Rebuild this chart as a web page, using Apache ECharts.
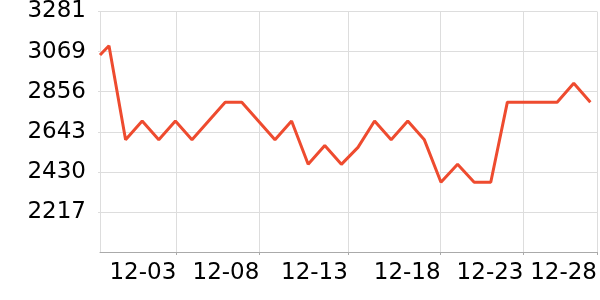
<!DOCTYPE html>
<html>
<head>
<meta charset="utf-8">
<script src="https://cdn.jsdelivr.net/npm/echarts@6/dist/echarts.min.js"></script>
<style>
html,body{margin:0;padding:0;background:#fff;}
#chart{width:600px;height:300px;}
</style>
</head>
<body>
<div id="chart"></div>
<script>
const dates = ['2023-11-28 11:00','2023-11-29','2023-11-30','2023-12-01','2023-12-02','2023-12-03',
  '2023-12-04','2023-12-05','2023-12-06','2023-12-07','2023-12-08','2023-12-09','2023-12-10',
  '2023-12-11','2023-12-12','2023-12-13','2023-12-14','2023-12-15','2023-12-16','2023-12-17',
  '2023-12-18','2023-12-19','2023-12-20','2023-12-21','2023-12-22','2023-12-23','2023-12-24',
  '2023-12-25','2023-12-26','2023-12-27','2023-12-28'];
const values = [3050,3100,2600,2700,2600,2700,2600,2700,2800,2800,2700,2600,2700,2470,2570,2470,
  2560,2700,2600,2700,2600,2375,2470,2375,2375,2800,2800,2800,2800,2900,2800];
const xTicks = ['2023-12-03 01:18','2023-12-08 01:26','2023-12-13 09:20','2023-12-18 23:30','2023-12-23 23:15','2023-12-28 09:36'];
const xMax = '2023-12-28 09:36';
const yMin = 2004.6, yMax = 3281.4, yStep = 212.8;

function parseLocal(s){
  const m = s.match(/(\d+)-(\d+)-(\d+)(?:\s+(\d+):(\d+))?/);
  return new Date(+m[1], +m[2]-1, +m[3], m[4]?+m[4]:0, m[5]?+m[5]:0).getTime();
}
function pad(n){return (n<10?'0':'')+n;}
const tickVals = xTicks.map(parseLocal);

const chart = echarts.init(document.getElementById('chart'), null, {renderer:'canvas'});
chart.setOption({
  animation:false,
  grid:{left:100,right:0,top:10,bottom:48,containLabel:false},
  xAxis:{
    type:'value',
    min:parseLocal(dates[0]),
    max:parseLocal(xMax),
    axisLine:{show:true,lineStyle:{color:'#aaaaaa',width:1}},
    axisTick:{show:true,length:3,lineStyle:{color:'#aaaaaa'},customValues:tickVals},
    splitLine:{show:true,lineStyle:{color:'#dddddd',width:1}},
    axisLabel:{
      customValues:tickVals,
      align:'right',
      margin:10,
      color:'#000',
      fontSize:23,
      fontFamily:'DejaVu Sans',
      formatter:function(v){const d=new Date(v);return pad(d.getMonth()+1)+'-'+pad(d.getDate());}
    }
  },
  yAxis:{
    type:'value',
    min:yMin,max:yMax,interval:yStep,
    axisLine:{show:true,lineStyle:{color:'#dddddd'}},
    axisTick:{show:true,length:2,lineStyle:{color:'#dddddd'}},
    splitLine:{show:true,lineStyle:{color:'#dddddd',width:1}},
    axisLabel:{
      showMinLabel:false,
      margin:14,
      color:'#000',
      fontSize:23,
      fontFamily:'DejaVu Sans',
      formatter:function(v){return String(Math.round(v));}
    }
  },
  series:[{
    type:'line',
    data:dates.map((d,i)=>[parseLocal(d),values[i]]),
    showSymbol:false,
    symbol:'none',
    lineStyle:{color:'#ee4b2f',width:3},
    itemStyle:{color:'#ee4b2f'}
  }]
});
</script>
</body>
</html>
